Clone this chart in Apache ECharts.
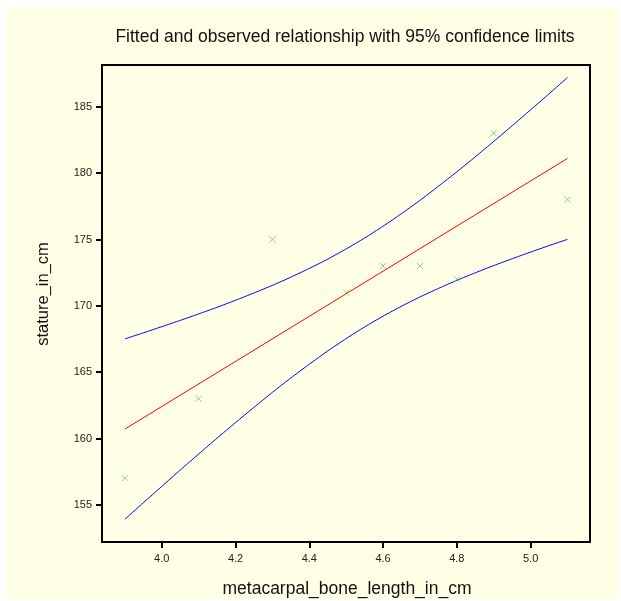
<!DOCTYPE html>
<html>
<head>
<meta charset="utf-8">
<script src="https://cdn.jsdelivr.net/npm/echarts@6/dist/echarts.min.js"></script>
<style>
html,body{margin:0;padding:0;background:#fff;}
#c{width:621px;height:601px;}
</style>
</head>
<body>
<div id="c"></div>
<script>
const titleText = 'Fitted and observed relationship with 95% confidence limits';
const xName = 'metacarpal_bone_length_in_cm';
const yName = 'stature_in_cm';
const xTicks = [4.0, 4.2, 4.4, 4.6, 4.8, 5.0];
const yTicks = [155, 160, 165, 170, 175, 180, 185];
const obsX = [3.9, 4.1, 4.3, 4.5, 4.6, 4.7, 4.8, 4.9, 5.1];
const obsY = [157, 163, 175, 171, 173, 173, 172, 183, 178];
const fitX = [3.9, 5.1];
const fitY = [160.71, 181.11];
const bandX = [3.9, 3.95, 4.0, 4.05, 4.1, 4.15, 4.2, 4.25, 4.3, 4.35, 4.4, 4.45, 4.5, 4.55, 4.6, 4.65, 4.7, 4.75, 4.8, 4.85, 4.9, 4.95, 5.0, 5.05, 5.1];
const upperY = [167.51, 167.96, 168.43, 168.90, 169.39, 169.89, 170.42, 170.97, 171.54, 172.16, 172.82, 173.52, 174.29, 175.11, 176.00, 176.95, 177.95, 179.01, 180.10, 181.23, 182.39, 183.57, 184.77, 185.98, 187.21];
const lowerY = [153.91, 155.16, 156.39, 157.62, 158.83, 160.03, 161.20, 162.35, 163.48, 164.56, 165.60, 166.60, 167.53, 168.41, 169.22, 169.97, 170.67, 171.31, 171.92, 172.49, 173.03, 173.55, 174.05, 174.54, 175.01];

const zip = (a, b) => a.map((v, i) => [v, b[i]]);
const BG = '#FFFFE6';
const FONT = '"Liberation Sans", Arial, sans-serif';
const chart = echarts.init(document.getElementById('c'), null, {renderer: 'canvas'});
chart.setOption({
  backgroundColor: '#fff',
  animation: false,
  graphic: [
    {type: 'rect', left: 6, top: 8, shape: {width: 613, height: 591}, style: {fill: BG}, z: -10},
    {type: 'text', x: 345, y: 37, style: {text: titleText, font: '17.5px ' + FONT, fill: '#111', align: 'center', verticalAlign: 'middle'}, z: 10},
    {type: 'text', x: 347, y: 589, style: {text: xName, font: '17.5px ' + FONT, fill: '#111', align: 'center', verticalAlign: 'middle'}},
    {type: 'text', x: 43, y: 294, rotation: Math.PI / 2, style: {text: yName, font: '16.5px ' + FONT, fill: '#111', align: 'center', verticalAlign: 'middle'}}
  ],
  grid: {left: 102, top: 65, right: 31, bottom: 59, show: true, borderColor: '#000', borderWidth: 2, backgroundColor: BG},
  xAxis: {
    type: 'value', min: 3.838, max: 5.161,
    axisLine: {show: true, lineStyle: {color: '#000', width: 2}},
    axisTick: {show: true, length: 6, customValues: xTicks, lineStyle: {color: '#000', width: 2}},
    axisLabel: {customValues: xTicks, formatter: v => v.toFixed(1), color: '#222', fontSize: 11, margin: 11, fontFamily: FONT},
    splitLine: {show: false}
  },
  yAxis: {
    type: 'value', min: 152.2, max: 188.15,
    axisLine: {show: true, lineStyle: {color: '#000', width: 2}},
    axisTick: {show: true, length: 6, customValues: yTicks, lineStyle: {color: '#000', width: 2}},
    axisLabel: {customValues: yTicks, formatter: v => String(Math.round(v)), color: '#222', fontSize: 11, margin: 10, fontFamily: FONT},
    splitLine: {show: false}
  },
  series: [
    {type: 'line', data: zip(bandX, upperY), smooth: 0.2, showSymbol: false, lineStyle: {color: '#0000FF', width: 1}},
    {type: 'line', data: zip(bandX, lowerY), smooth: 0.2, showSymbol: false, lineStyle: {color: '#0000FF', width: 1}},
    {type: 'line', data: zip(fitX, fitY), showSymbol: false, lineStyle: {color: '#FF0000', width: 1}},
    {type: 'scatter', data: zip(obsX, obsY), symbol: 'path://M0,0L10,10M10,0L0,10', symbolSize: 6,
     itemStyle: {color: 'none', borderColor: '#5ECC5E', borderWidth: 1}, z: 5}
  ]
});
</script>
</body>
</html>
